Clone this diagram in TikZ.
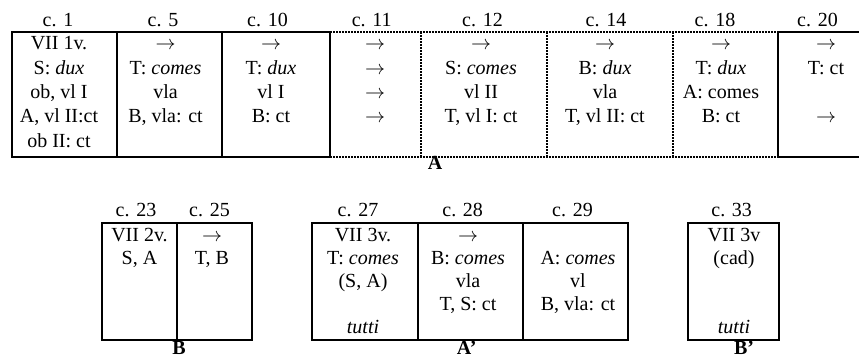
\documentclass[tikz,border=0pt]{standalone}
\usepackage{fontspec}
\setmainfont{Liberation Serif}
\newcommand\myarr{$\rightarrow$}
\tikzset{
 solidl/.style={line width=1pt},
 dotl/.style={line width=1pt, dash pattern=on 0.85pt off 0.65pt},
 cella/.style={anchor=north, inner sep=0pt, align=center, font=\fontsize{10}{12.17}\selectfont},
 cellb/.style={anchor=north, inner sep=0pt, align=center, font=\fontsize{10}{11.46}\selectfont},
 hdr/.style={anchor=base, inner sep=0pt, font=\fontsize{10}{12}\selectfont},
 lbl/.style={anchor=base, inner sep=0pt, font=\fontsize{10}{12}\selectfont\bfseries},
}
\begin{document}
\begin{tikzpicture}[x=0.5pt,y=-0.5pt]
\useasboundingbox (0,0) rectangle (859,357);
% ---- row 1 frames
\draw[solidl] (11.7,32.3) rectangle (330,156.7);
\draw[solidl] (117,32.3) -- (117,156.7);
\draw[solidl] (222,32.3) -- (222,156.7);
\draw[dotl] (330,32.3) -- (778.3,32.3);
\draw[dotl] (330,156.7) -- (778.3,156.7);
\draw[dotl] (420.7,32.3) -- (420.7,156.7);
\draw[dotl] (547,32.3) -- (547,156.7);
\draw[dotl] (673.3,32.3) -- (673.3,156.7);
\draw[solidl] (862,32.3) -- (778.3,32.3) -- (778.3,156.7) -- (862,156.7);
% ---- row 1 headers
\node[hdr] (h1)  at (58,27)    {c. 1};
\node[hdr] (h5)  at (163,27)   {c. 5};
\node[hdr] (h10) at (267.5,27) {c. 10};
\node[hdr] (h11) at (371.7,27) {c. 11};
\node[hdr] (h12) at (482.5,27) {c. 12};
\node[hdr] (h14) at (606,27)   {c. 14};
\node[hdr] (h18) at (715,27)   {c. 18};
\node[hdr] (h20) at (817.5,27) {c. 20};
% ---- row 1 cells
\node[cella] (t1)  at (59,32.3)   {\strut VII 1v.\\\strut S: \textit{dux}\\\strut ob, vl I\\\strut A, vl II:ct\\\strut ob II: ct};
\node[cella] (t5)  at (165.5,32.3){\strut\myarr\\\strut T: \textit{comes}\\\strut vla\\\strut B, vla: ct};
\node[cella] (t10) at (271,32.3)  {\strut\myarr\\\strut T: \textit{dux}\\\strut vl I\\\strut B: ct};
\node[cella] (t11) at (375,32.3)  {\strut\myarr\\\strut\myarr\\\strut\myarr\\\strut\myarr};
\node[cella] (t12) at (481,32.3)  {\strut\myarr\\\strut S: \textit{comes}\\\strut vl II\\\strut T, vl I: ct};
\node[cella] (t14) at (605,32.3)  {\strut\myarr\\\strut B: \textit{dux}\\\strut vla\\\strut T, vl II: ct};
\node[cella] (t18) at (721,32.3)  {\strut\myarr\\\strut T: \textit{dux}\\\strut A: comes\\\strut B: ct};
\node[cella] (t20) at (826,32.3)  {\strut\myarr\\\strut T: ct\\\strut\\\strut\myarr};
\node[lbl] (lA) at (435,170) {A};
% ---- row 2 frames
\draw[solidl] (102,223.3) rectangle (252,340);
\draw[solidl] (177,223.3) -- (177,340);
\draw[solidl] (312.3,223.3) rectangle (628,340);
\draw[solidl] (418,223.3) -- (418,340);
\draw[solidl] (523,223.3) -- (523,340);
\draw[solidl] (688,223.3) rectangle (779,340);
% ---- row 2 headers
\node[hdr] (h23) at (136,217)   {c. 23};
\node[hdr] (h25) at (209.5,217) {c. 25};
\node[hdr] (h27) at (358,217)   {c. 27};
\node[hdr] (h28) at (462.7,217) {c. 28};
\node[hdr] (h29) at (572.5,217) {c. 29};
\node[hdr] (h33) at (731.7,217) {c. 33};
% ---- row 2 cells
\node[cellb] (t23) at (139.5,225) {\strut VII 2v.\\\strut S, A};
\node[cellb] (t25) at (212,225)   {\strut\myarr\\\strut T, B};
\node[cellb] (t27) at (363,225)   {\strut VII 3v.\\\strut T: \textit{comes}\\\strut (S, A)\\\strut\\\strut\textit{tutti}};
\node[cellb] (t28) at (468,225)   {\strut\myarr\\\strut B: \textit{comes}\\\strut vla\\\strut T, S: ct};
\node[cellb] (t29) at (578,225)   {\strut\\\strut A: \textit{comes}\\\strut vl\\\strut B, vla: ct};
\node[cellb] (t33) at (734,225)   {\strut VII 3v\\\strut (cad)\\\strut\\\strut\\\strut\textit{tutti}};
\node[lbl] (lB)  at (179,355)   {B};
\node[lbl] (lA2) at (466.7,355) {A’};
\node[lbl] (lB2) at (744,355)   {B’};
\end{tikzpicture}
\end{document}
